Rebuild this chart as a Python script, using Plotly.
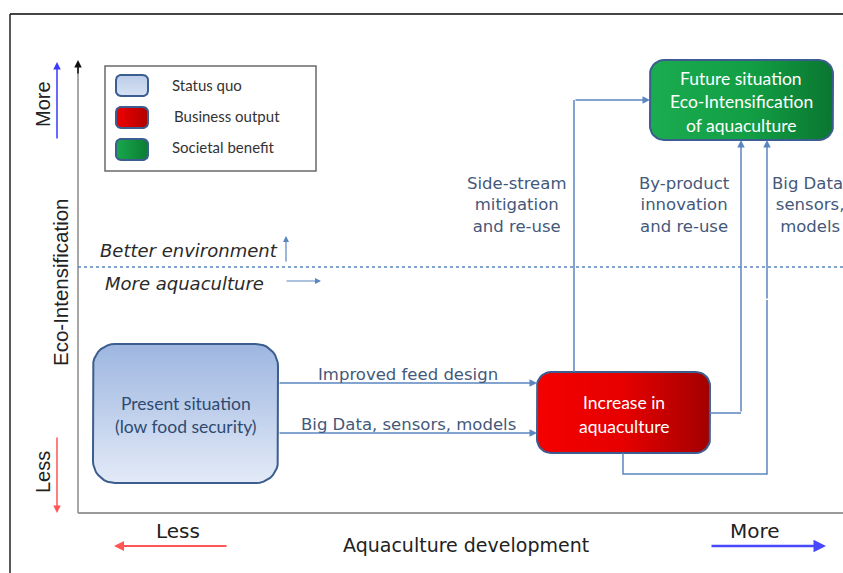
import plotly.graph_objects as go
import numpy as np

# ---- text content ----
legend_labels = ["Status quo", "Business output", "Societal benefit"]
present_lines = ["Present situation", "(low food security)"]
increase_lines = ["Increase in", "aquaculture"]
future_lines = ["Future situation", "Eco-Intensification", "of aquaculture"]
horiz_labels = ["Improved feed design", "Big Data, sensors, models"]
vert_labels = ["Side-stream<br>mitigation<br>and re-use",
               "By-product<br>innovation<br>and re-use",
               "Big Data,<br>sensors,<br>models"]
region_labels = ["Better environment", "More aquaculture"]
y_axis_title = "Eco-Intensification"
x_axis_title = "Aquaculture development"
scale_words = ["More", "Less"]

ARIAL = "Liberation Sans, Arial, sans-serif"
WIDE = "DejaVu Sans, Verdana, sans-serif"
CALIBRI = "Lato, Carlito, sans-serif"
LINK = "#5a86c0"
LBL = "#44587a"
BORDER = "#3b5d8f"

fig = go.Figure()


def rrect(x0, y0, x1, y1, r, n=10):
    xs, ys = [], []
    corners = [(x1 - r, y0 + r, -90, 0), (x1 - r, y1 - r, 0, 90),
               (x0 + r, y1 - r, 90, 180), (x0 + r, y0 + r, 180, 270)]
    for cx, cy, a0, a1 in corners:
        for a in np.linspace(np.radians(a0), np.radians(a1), n):
            xs.append(cx + r * np.cos(a))
            ys.append(cy + r * np.sin(a))
    xs.append(xs[0]); ys.append(ys[0])
    return xs, ys


def box(x0, y0, x1, y1, r, grad, width=2):
    xs, ys = rrect(x0, y0, x1, y1, r)
    fig.add_trace(go.Scatter(x=xs, y=ys, mode="lines", fill="toself",
                             fillgradient=grad,
                             line=dict(color=BORDER, width=width),
                             hoverinfo="skip", showlegend=False))


blue_grad = dict(type="vertical", colorscale=[[0, "#9db6e0"], [1, "#e3eaf7"]],
                 start=344, stop=483)
red_grad = dict(type="horizontal",
                colorscale=[[0, "#f40000"], [0.5, "#e60000"], [1, "#a20000"]],
                start=537, stop=710)
green_grad = dict(type="horizontal",
                  colorscale=[[0, "#1bab50"], [0.55, "#129e44"], [1, "#0a7630"]],
                  start=650, stop=833)

# main boxes
box(93, 344, 278, 483, 22, blue_grad)
box(537, 372, 710, 453, 14, red_grad)
box(650, 60, 833, 140, 14, green_grad)

# legend swatches
box(116, 75, 148, 96, 5, dict(type="vertical", colorscale=[[0, "#bccde9"], [1, "#d6e1f3"]], start=75, stop=96))
box(116, 107, 148, 128, 5, dict(type="horizontal", colorscale=[[0, "#f00000"], [1, "#b00000"]], start=116, stop=148))
box(116, 139, 148, 160, 5, dict(type="horizontal", colorscale=[[0, "#18a84c"], [1, "#0c7c34"]], start=116, stop=148))

shapes = []
# outer frame
shapes.append(dict(type="line", x0=10, y0=14, x1=843, y1=14, line=dict(color="#444444", width=2)))
shapes.append(dict(type="line", x0=10, y0=14, x1=10, y1=573, line=dict(color="#222222", width=1.5)))
# axes
shapes.append(dict(type="line", x0=78, y0=513, x1=78, y1=66, line=dict(color="#8a8a8a", width=1.5)))
shapes.append(dict(type="line", x0=78, y0=513, x1=843, y1=513, line=dict(color="#9a9a9a", width=2)))
# legend frame
shapes.append(dict(type="rect", x0=105, y0=66, x1=316, y1=171, line=dict(color="#6a6a6a", width=1.5)))
# dashed divider
shapes.append(dict(type="line", x0=78, y0=267, x1=843, y1=267, line=dict(color=LINK, width=1.5, dash="dot")))
# connector segments
shapes.append(dict(type="line", x0=574, y0=372, x1=574, y1=100, line=dict(color=LINK, width=1.5)))
shapes.append(dict(type="line", x0=710, y0=413, x1=741, y1=413, line=dict(color=LINK, width=1.5)))
shapes.append(dict(type="path", path="M 623 453 L 623 474 L 767 474 L 767 300",
                   line=dict(color=LINK, width=1.5)))

annotations = []


def arrow(x0, y0, x1, y1, color, width=1.5, head=2, size=1.0):
    annotations.append(dict(x=x1, y=y1, ax=x0, ay=y0, xref="x", yref="y", axref="x", ayref="y",
                            text="", showarrow=True, arrowhead=head, arrowsize=size,
                            arrowwidth=width, arrowcolor=color))


def text(x, y, s, size, color, font=ARIAL, angle=0, xanchor="center", italic=False):
    annotations.append(dict(x=x, y=y, xref="x", yref="y", text=s, showarrow=False,
                            xanchor=xanchor, yanchor="middle", textangle=angle,
                            font=dict(family=font, size=size, color=color,
                                      style="italic" if italic else "normal")))


# arrows on connectors
arrow(574, 100, 650, 100, LINK)
arrow(741, 413, 741, 140, LINK)
arrow(767, 300, 767, 140, LINK)
arrow(278, 383, 537, 383, LINK)
arrow(278, 433, 537, 433, LINK)
# axis arrowhead
arrow(78, 75, 78, 60, "#111111", width=1.5, head=2)
# More / Less vertical arrows
arrow(57, 140, 57, 62, "#3a3aff", width=1.5)
arrow(57, 436, 57, 513, "#ff5555", width=1.5)
# bottom arrows
arrow(228, 546, 114, 546, "#ff5555", width=2)
arrow(710, 546, 826, 546, "#4848ff", width=2.5)
# small direction arrows
arrow(286, 263, 286, 236, LINK, width=1.2)
arrow(285, 281, 321, 281, LINK, width=1.2)

# legend text
text(170, 85, legend_labels[0], 15, "#333333", CALIBRI, xanchor="left")
text(172, 116, legend_labels[1], 15, "#333333", CALIBRI, xanchor="left")
text(170, 147, legend_labels[2], 15, "#333333", CALIBRI, xanchor="left")

# box text
text(186, 403, present_lines[0], 17.5, "#2e4a70", CALIBRI)
text(186, 426, present_lines[1], 17.5, "#2e4a70", CALIBRI)
text(624, 402, increase_lines[0], 17.5, "#ffffff", CALIBRI)
text(624, 426, increase_lines[1], 17.5, "#ffffff", CALIBRI)
for i, s in enumerate(future_lines):
    text(741, 78 + 23.5 * i, s, 17.5, "#ffffff", CALIBRI)

# link labels
text(408, 374, horiz_labels[0], 16.5, LBL, WIDE)
text(408, 424, horiz_labels[1], 16.5, LBL, WIDE)
vx = [516, 684, 810]
for x, s in zip(vx, vert_labels):
    annotations.append(dict(x=x, y=205, xref="x", yref="y", text=s, showarrow=False,
                            xanchor="center", yanchor="middle", align="center",
                            font=dict(family=WIDE, size=16.5, color=LBL)))

# region labels
text(98, 250, region_labels[0], 18, "#2a2a2a", WIDE, xanchor="left", italic=True)
text(103, 283, region_labels[1], 18, "#2a2a2a", WIDE, xanchor="left", italic=True)

# axis titles
text(60, 282, y_axis_title, 20.5, "#222222", angle=-90)
text(466, 545, x_axis_title, 19, "#222222", WIDE)
text(43, 104, scale_words[0], 20, "#222222", angle=-90)
text(43, 472, scale_words[1], 20, "#222222", angle=-90)
text(178, 531, scale_words[1], 20, "#222222", WIDE)
text(755, 531, scale_words[0], 20, "#222222", WIDE)

fig.update_layout(
    width=843, height=573, autosize=False,
    margin=dict(l=0, r=0, t=0, b=0, pad=0),
    paper_bgcolor="white", plot_bgcolor="white",
    xaxis=dict(range=[0, 843], visible=False, fixedrange=True),
    yaxis=dict(range=[573, 0], visible=False, fixedrange=True),
    shapes=shapes, annotations=annotations, showlegend=False,
)

fig.write_html("out.html", config=dict(displayModeBar=False),
               post_script="document.body.style.margin='0px';document.body.style.overflow='hidden';")
